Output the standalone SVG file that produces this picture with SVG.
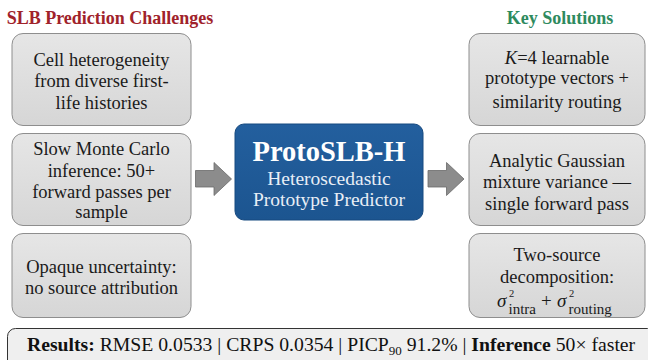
<svg xmlns="http://www.w3.org/2000/svg" width="648" height="360" viewBox="0 0 648 360">
  <defs>
    <linearGradient id="boxFill" x1="0" y1="0" x2="0" y2="1">
      <stop offset="0" stop-color="#e6e6e6"/>
      <stop offset="1" stop-color="#d6d6d6"/>
    </linearGradient>
    <linearGradient id="coreFill" x1="0" y1="0" x2="0" y2="1">
      <stop offset="0" stop-color="#235f9e"/>
      <stop offset="1" stop-color="#1c5590"/>
    </linearGradient>
  </defs>
  <style>
    text { font-family: "Liberation Serif", "Times New Roman", serif; }
    .head { font-size: 18px; font-weight: bold; text-anchor: middle; }
    .box { fill: url(#boxFill); stroke: #8e8e8e; stroke-width: 1; }
    .lbl { font-family: "Liberation Serif", "Times New Roman", serif; font-size: 18.5px; fill: #1a1a1a; text-anchor: middle; }
    .math { font-family: "Liberation Serif", "Times New Roman", serif; fill: #1a1a1a; font-size: 19px; }
    .sup { font-size: 10.5px; font-style: normal; }
    .sub { font-size: 15px; font-style: normal; }
    .arrow { fill: #8c8c8c; stroke: #6a6a6a; stroke-width: 0.8; }
  </style>

  <rect width="648" height="360" fill="#ffffff"/>

  <!-- column headings -->
  <text class="head" x="110" y="24" fill="#a0222a">SLB Prediction Challenges</text>
  <text class="head" x="560" y="24" fill="#2e8a5e">Key Solutions</text>

  <!-- challenges -->
  <g id="challenge-heterogeneity">
    <rect class="box" x="12" y="33.5" width="179" height="92" rx="11"/>
    <text class="lbl" x="101.5" y="65.5">Cell heterogeneity</text>
    <text class="lbl" x="101.5" y="87">from diverse first-</text>
    <text class="lbl" x="101.5" y="108.5">life histories</text>
  </g>
  <g id="challenge-montecarlo">
    <rect class="box" x="12" y="133.5" width="179" height="92" rx="11"/>
    <text class="lbl" x="101.5" y="155">Slow Monte Carlo</text>
    <text class="lbl" x="101.5" y="176.5">inference: 50+</text>
    <text class="lbl" x="101.5" y="197.5">forward passes per</text>
    <text class="lbl" x="101.5" y="218">sample</text>
  </g>
  <g id="challenge-opaque">
    <rect class="box" x="12" y="233.5" width="179" height="84" rx="11"/>
    <text class="lbl" x="101.5" y="273">Opaque uncertainty:</text>
    <text class="lbl" x="101.5" y="294">no source attribution</text>
  </g>

  <!-- core model -->
  <g id="protoslb-h">
    <rect x="235" y="124" width="188" height="96" rx="9" fill="url(#coreFill)" stroke="#174a80" stroke-width="1"/>
    <text x="329" y="161" fill="#ffffff" text-anchor="middle" font-size="28.5" font-weight="bold">ProtoSLB-H</text>
    <text x="329" y="185" fill="#e8eef6" text-anchor="middle" font-size="19.5">Heteroscedastic</text>
    <text x="329" y="206" fill="#e8eef6" text-anchor="middle" font-size="19.5">Prototype Predictor</text>
  </g>

  <!-- solutions -->
  <g id="solution-prototypes">
    <rect class="box" x="469" y="33.5" width="176" height="92" rx="11"/>
    <text class="lbl" x="557" y="63.5"><tspan font-style="italic">K</tspan>=4 learnable</text>
    <text class="lbl" x="557" y="84">prototype vectors +</text>
    <text class="lbl" x="557" y="108">similarity routing</text>
  </g>
  <g id="solution-analytic">
    <rect class="box" x="469" y="133.5" width="176" height="92" rx="11"/>
    <text class="lbl" x="557" y="166.5">Analytic Gaussian</text>
    <text class="lbl" x="557" y="188">mixture variance —</text>
    <text class="lbl" x="557" y="209.5">single forward pass</text>
  </g>
  <g id="solution-decomposition">
    <rect class="box" x="469" y="233.5" width="176" height="84" rx="11"/>
    <text class="lbl" x="557" y="261">Two-source</text>
    <text class="lbl" x="557" y="282.5">decomposition:</text>
    <!-- sigma^2_intra + sigma^2_routing: scripts stacked with absolute tspan positions -->
    <text class="math"><tspan x="497" y="307" font-style="italic">σ</tspan><tspan class="sup" x="509" y="297">2</tspan><tspan class="sub" x="508.5" y="314">intra</tspan><tspan x="541" y="307">+</tspan><tspan x="557" y="307" font-style="italic">σ</tspan><tspan class="sup" x="569" y="297">2</tspan><tspan class="sub" x="568.5" y="314">routing</tspan></text>
  </g>

  <!-- connectors -->
  <g id="connectors">
    <polygon class="arrow" points="195.5,170.5 214,170.5 214,162.5 231.5,179 214,195.5 214,187 195.5,187"/>
    <polygon class="arrow" points="428,170.5 446.5,170.5 446.5,162.5 464,179 446.5,195.5 446.5,187 428,187"/>
  </g>

  <!-- results strip -->
  <g id="results">
    <rect x="7.5" y="328.5" width="648" height="40" rx="8" fill="#efefef" stroke="#333333" stroke-width="1"/>
    <text x="27" y="351" font-size="19.7" fill="#111111"><tspan font-weight="bold">Results:</tspan> RMSE 0.0533 | CRPS 0.0354 | PICP<tspan font-size="13" dy="4">90</tspan><tspan dy="-4"> 91.2% | </tspan><tspan font-weight="bold">Inference</tspan> 50× faster</text>
  </g>
</svg>
